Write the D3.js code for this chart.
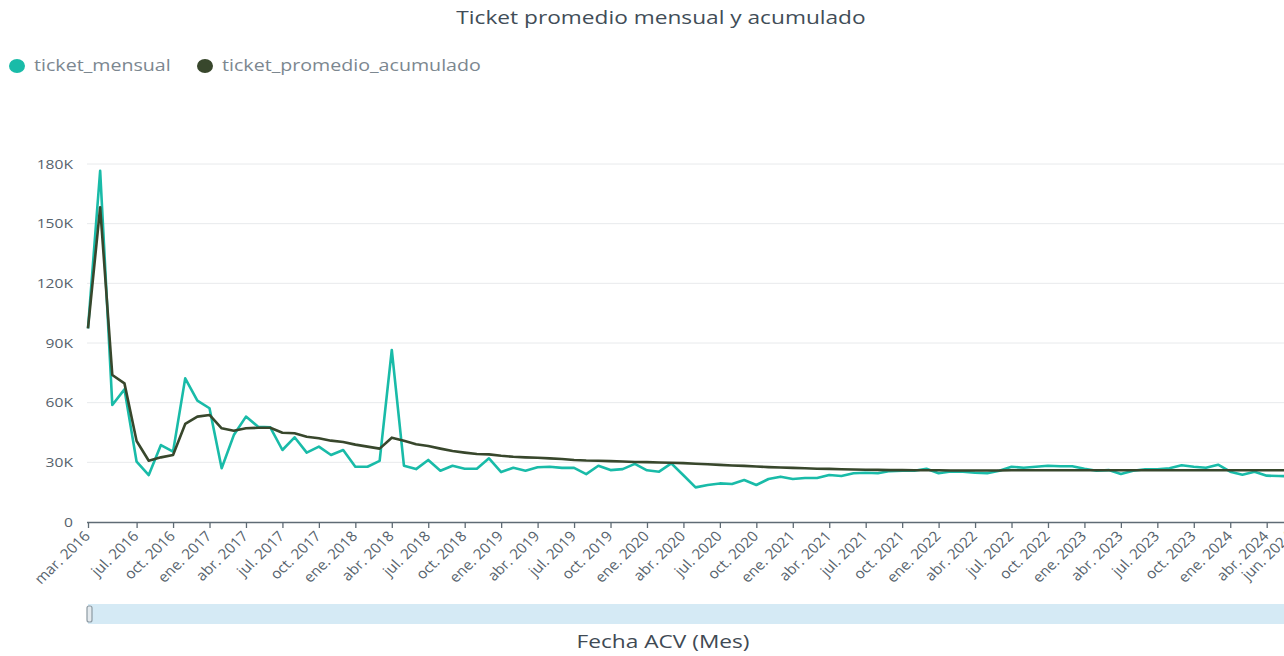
<!DOCTYPE html>
<html>
<head>
<meta charset="utf-8">
<script src="https://cdn.jsdelivr.net/npm/d3@7"></script>
<style>
  body { margin: 0; background: #fff; }
  svg { display: block; font-family: "Open Sans", "Noto Sans", sans-serif; }
</style>
</head>
<body>
<svg id="chart" width="1284" height="656"></svg>
<script>
// series, Mar 2016 .. Jun 2024, values in K
var mesAbrev = ["ene.","feb.","mar.","abr.","may.","jun.","jul.","ago.","sept.","oct.","nov.","dic."];

var ticketMensual = [
  97.4, 176.6, 58.8, 66.7, 30.3, 23.6, 38.7, 35.4, 72.2, 61.0,
  57.2, 27.0, 43.7, 53.0, 47.9, 47.6, 36.2, 42.6, 34.9, 37.9,
  33.7, 36.2, 27.8, 27.8, 30.7, 86.5, 28.3, 26.6, 31.2, 25.8,
  28.3, 26.8, 26.8, 32.0, 25.1, 27.3, 25.8, 27.5, 27.8, 27.2,
  27.2, 24.1, 28.3, 26.1, 26.6, 29.2, 26.0, 25.3, 29.5, 23.5,
  17.4, 18.6, 19.4, 19.1, 21.1, 18.6, 21.6, 22.8, 21.6, 22.1,
  22.1, 23.6, 23.1, 24.5, 24.8, 24.5, 25.6, 25.8, 25.8, 26.8,
  24.5, 25.4, 25.3, 24.8, 24.5, 25.8, 27.8, 27.3, 27.8, 28.3,
  28.0, 28.0, 26.8, 25.8, 26.1, 24.1, 25.8, 26.5, 26.5, 27.0,
  28.5, 27.8, 27.3, 28.8, 25.3, 23.8, 25.3, 23.3, 23.1, 23.0
];

var ticketAcumulado = [
  97.4, 158.2, 73.9, 69.7, 40.7, 30.8, 32.5, 33.7, 49.3, 53.0,
  53.8, 47.1, 45.9, 47.1, 47.4, 47.4, 44.9, 44.6, 42.9, 42.1,
  40.9, 40.2, 38.9, 37.9, 36.9, 42.4, 40.9, 39.1, 38.2, 36.9,
  35.7, 34.9, 34.2, 34.0, 33.3, 32.8, 32.5, 32.3, 32.0, 31.7,
  31.2, 30.9, 30.8, 30.6, 30.4, 30.2, 30.1, 29.9, 29.8, 29.6,
  29.3, 29.0, 28.7, 28.4, 28.2, 27.9, 27.6, 27.4, 27.2, 27.0,
  26.8, 26.7, 26.5, 26.4, 26.3, 26.2, 26.1, 26.1, 26.0, 26.0,
  26.0, 25.9, 25.9, 25.9, 25.9, 25.9, 26.0, 26.0, 26.0, 26.0,
  26.0, 26.0, 26.0, 26.0, 26.0, 26.0, 26.0, 26.0, 26.0, 26.0,
  26.0, 26.0, 26.0, 26.0, 26.0, 26.0, 26.0, 26.0, 26.0, 26.0
];

var yTicks = [0, 30, 60, 90, 120, 150, 180];
var seriesNames = ["ticket_mensual", "ticket_promedio_acumulado"];
var seriesColors = ["#19bba8", "#38472c"];

var meses = d3.timeMonth.range(new Date(2016, 2, 1), new Date(2024, 6, 1));
var tickIdx = [0].concat(d3.range(4, 98, 3)).concat([99]);

var svg = d3.select("#chart");
var TX = 1.22; // horizontal stretch of the reference text

var x = d3.scalePoint().domain(d3.range(meses.length)).range([88, 1291]);
var y = d3.scaleLinear().domain([0, 180]).range([522, 164]);

// grid
svg.append("g").selectAll("line").data(yTicks.slice(1)).enter().append("line")
  .attr("x1", 87).attr("x2", 1284)
  .attr("y1", function(d){ return y(d); }).attr("y2", function(d){ return y(d); })
  .attr("stroke", "#e8eaec").attr("stroke-width", 1);

// y labels
svg.append("g").selectAll("text").data(yTicks).enter().append("text")
  .attr("transform", function(d){ return "translate(73," + (y(d) + 4.5) + ") scale(" + TX + ",1)"; })
  .attr("text-anchor", "end")
  .attr("font-size", 12.8)
  .attr("fill", "#56626c")
  .text(function(d){ return d === 0 ? "0" : d + "K"; });

// x axis
var xAxis = d3.axisBottom(x).tickValues(tickIdx).tickSize(6).tickFormat("");
var gx = svg.append("g").attr("transform", "translate(0,522)").call(xAxis);
gx.select(".domain").attr("stroke", "#5f6b75").attr("stroke-width", 1.6).attr("d", "M87,0.5H1284");
gx.selectAll(".tick line").attr("stroke", "#5f6b75").attr("stroke-width", 1.3);

svg.append("g").selectAll("text").data(tickIdx).enter().append("text")
  .attr("transform", function(i){ return "translate(" + (x(i) + 3) + ",537) scale(1.08,1) rotate(-46)"; })
  .attr("text-anchor", "end")
  .attr("font-size", 14.2)
  .attr("fill", "#56626c")
  .text(function(i){ var m = meses[i]; return mesAbrev[m.getMonth()] + " " + m.getFullYear(); });

// lines
var line = d3.line().x(function(d, i){ return x(i); }).y(function(d){ return y(d); });
[ticketMensual, ticketAcumulado].forEach(function(s, k) {
  svg.append("path").datum(s)
    .attr("d", line)
    .attr("fill", "none")
    .attr("stroke", seriesColors[k])
    .attr("stroke-width", 2.6)
    .attr("stroke-linejoin", "round");
});

// title
svg.append("text")
  .attr("transform", "translate(661,24) scale(" + TX + ",1)")
  .attr("text-anchor", "middle")
  .attr("font-size", 18.6)
  .attr("fill", "#414d57")
  .text("Ticket promedio mensual y acumulado");

// legend
var legX = [17, 205];
seriesNames.forEach(function(n, k) {
  svg.append("ellipse").attr("cx", legX[k]).attr("cy", 66).attr("rx", 8).attr("ry", 7)
    .attr("fill", seriesColors[k]);
  svg.append("text")
    .attr("transform", "translate(" + (legX[k] + 17) + ",71) scale(" + TX + ",1)")
    .attr("font-size", 16.1)
    .attr("fill", "#7c8790")
    .text(n);
});

// scroll bar
svg.append("rect").attr("x", 88).attr("y", 604).attr("width", 1196).attr("height", 20)
  .attr("fill", "#d5eaf5");
svg.append("rect").attr("x", 87).attr("y", 606).attr("width", 5).attr("height", 16).attr("rx", 2)
  .attr("fill", "#e4eaee").attr("stroke", "#8d9aa3").attr("stroke-width", 1.2);

// x axis title
svg.append("text")
  .attr("transform", "translate(663,648) scale(" + TX + ",1)")
  .attr("text-anchor", "middle")
  .attr("font-size", 18.6)
  .attr("fill", "#3f4a54")
  .text("Fecha ACV (Mes)");
</script>
</body>
</html>
